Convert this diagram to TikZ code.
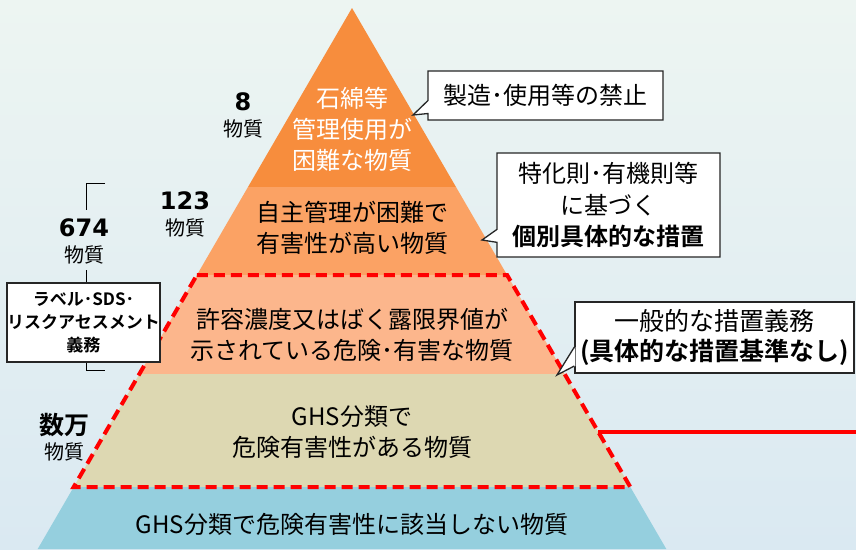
\documentclass[tikz,border=0pt]{standalone}
\usepackage{fontspec}
\setmainfont{Noto Sans CJK JP}[BoldFont={Noto Sans CJK JP Bold}]
\newfontfamily\digitfont{DejaVu Sans}
\usepackage{tikz}
\usetikzlibrary{calc,shapes.callouts}
\definecolor{bgtop}{HTML}{EDF5F2}
\definecolor{bgbot}{HTML}{DAE9F2}
\definecolor{lay1}{HTML}{F78D3D}
\definecolor{lay2}{HTML}{FBA264}
\definecolor{lay3}{HTML}{FCB68C}
\definecolor{lay4}{HTML}{DDD8B2}
\definecolor{lay5}{HTML}{95CFDE}
\definecolor{alarm}{HTML}{FF0000}

\begin{document}
\begin{tikzpicture}[x=1pt,y=-1pt,node distance=27pt,semithick]
  \tikzstyle{layer}=[text=black,align=center,font=\fontsize{24}{31}\selectfont]
  \tikzstyle{num}=[font=\fontsize{24}{26}\selectfont\digitfont\bfseries,inner sep=0pt]
  \tikzstyle{unit}=[font=\fontsize{20}{22}\selectfont,inner sep=0pt]
  \tikzstyle{note}=[rectangle callout,draw=black!85,line width=1.3pt,fill=white,
                    align=center,inner sep=0pt,callout pointer width=13pt,
                    font=\fontsize{24}{31.5}\selectfont]

  \useasboundingbox (0,0) rectangle (856,549);
  \shade[top color=bgtop,bottom color=bgbot] (0,0) rectangle (856,549);

  % pyramid
  \coordinate (apex) at (352,8);
  \fill[lay1] (apex) -- (456,187) -- (248,187) -- cycle;
  \fill[lay2] (248,187) -- (456,187) -- (507.1,275) -- (196.9,275) -- cycle;
  \fill[lay3] (196.9,275) -- (507.1,275) -- (564.6,374) -- (139.4,374) -- cycle;
  \fill[lay4] (139.4,374) -- (564.6,374) -- (630.3,487) -- (73.7,487) -- cycle;
  \fill[lay5] (73.7,487) -- (630.3,487) -- (666.3,549) -- (37.7,549) -- cycle;

  \coordinate (tl) at (196.9,275);
  \coordinate (tr) at (507.1,275);
  \coordinate (br) at (630.3,487);
  \coordinate (bl) at (73.7,487);
  \coordinate (rs) at (598,432);
  \coordinate (re) at (856,432);
  \draw[alarm,line width=4pt,dash pattern=on 11pt off 6pt] (tl) -- (tr) -- (br) -- (bl) -- cycle;
  \draw[alarm,line width=3.5pt] (rs) -- (re);

  \node[layer,text=white] (asb)  at (352,129) {石綿等\\管理使用が\\困難な物質};
  \node[layer] (self) at (352,228) {自主管理が困難で\\有害性が高い物質};
  \node[layer] (oel)  at (352,335) {許容濃度又はばく露限界値が\\示されている危険･有害な物質};
  \node[layer] (ghs)  at (352,432) {GHS分類で\\危険有害性がある物質};
  \node[layer] (none) at (352,524) {GHS分類で危険有害性に該当しない物質};

  % counts
  \node[num] (n8)   at (243,102) {8};
  \node[unit] (u8)   [below of=n8]   {物質};
  \node[num] (n123) at (185,201) {123};
  \node[unit] (u123) [below of=n123] {物質};
  \node[num] (n674) at (84,228)  {674};
  \node[unit] (u674) [below of=n674] {物質};
  \node[num,font=\fontsize{25}{27}\selectfont\bfseries] (nman) at (64,425) {数万};
  \node[unit] (uman) [below of=nman] {物質};

  % bracket
  \coordinate (b1) at (105,183);
  \coordinate (b2) at (86,183);
  \coordinate (b3) at (86,210);
  \coordinate (b4) at (86,270);
  \coordinate (b5) at (86,370);
  \coordinate (b6) at (105,370);
  \draw[thin] (b1) -- (b2) -- (b3);
  \draw[thin] (b4) -- (b5) -- (b6);
  \node[draw=black!85,line width=1.3pt,fill=white,align=center,inner sep=0pt,
        minimum width=153pt,minimum height=79pt,
        font=\fontsize{17}{23}\selectfont\bfseries] (duty) at (83.5,322.5)
        {ラベル･SDS･\\リスクアセスメント\\義務};

  % callouts
  \node[note,minimum width=235pt,minimum height=49pt,
        callout absolute pointer={(413,115)}] (ban) at (545.5,95.5)
        {製造･使用等の禁止};
  \node[note,minimum width=223pt,minimum height=104pt,
        callout absolute pointer={(482,240)}] (rule) at (608.5,205)
        {特化則･有機則等\\に基づく\\\textbf{個別具体的な措置}};
  \node[draw=black!85,line width=1.3pt,fill=white,align=center,inner sep=0pt,
        minimum width=279pt,minimum height=71pt,font=\fontsize{25}{30}\selectfont]
        (gen) at (714.5,337.5)
        {一般的な措置義務\\\textbf{(具体的な措置基準なし)}};
  \coordinate (tip) at (557,375);
  \fill[white] ($(gen.west)+(1,9.5)$) -- (tip) -- ($(gen.west)+(1,28.5)$) -- cycle;
  \draw[black!85,line width=1.3pt,line join=miter] ($(gen.west)+(0,9.5)$) -- (tip) -- ($(gen.west)+(0,28.5)$);
\end{tikzpicture}
\end{document}
